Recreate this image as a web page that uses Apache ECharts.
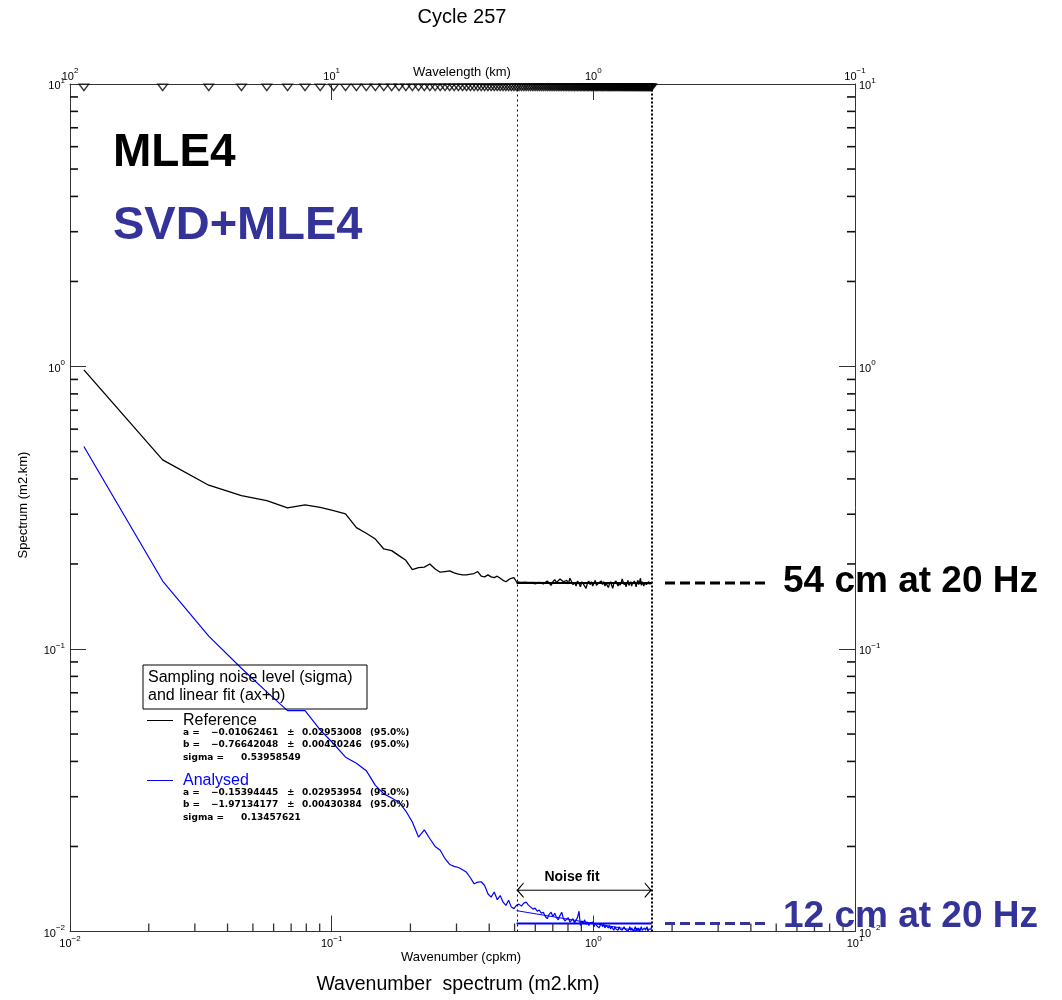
<!DOCTYPE html>
<html>
<head>
<meta charset="utf-8">
<script src="https://cdn.jsdelivr.net/npm/echarts@6/dist/echarts.min.js"></script>
<style>
  html, body { margin: 0; padding: 0; background: #ffffff; }
  #chart { width: 1062px; height: 1000px; }
</style>
</head>
<body>
<div id="chart"></div>
<script>
// Spectral resolution of the along-track spectrum (cycles per km)
const DK = 0.0113;

// Wavenumber spectra (m2.km), one value per spectral bin
const referenceSpectrum = [
  0.973, 0.467, 0.380, 0.349, 0.335, 0.316, 0.324, 0.317, 0.309, 0.301,
  0.269, 0.257, 0.245, 0.226, 0.223, 0.214, 0.206, 0.191, 0.194, 0.195,
  0.200, 0.192, 0.187, 0.188, 0.189, 0.186, 0.184, 0.183, 0.183, 0.184,
  0.185, 0.188, 0.181, 0.180, 0.183, 0.180, 0.179, 0.181, 0.178, 0.175,
  0.173, 0.176, 0.178, 0.179, 0.173,
  0.172, 0.171, 0.172, 0.172, 0.171, 0.171, 0.172, 0.170, 0.171, 0.172, 0.171, 0.170, 0.168,
  0.174, 0.171, 0.168, 0.173, 0.176, 0.172, 0.170, 0.177, 0.179, 0.173, 0.171, 0.175,
  0.170, 0.178, 0.176, 0.169, 0.172, 0.167, 0.174, 0.171, 0.166, 0.173, 0.170, 0.168, 0.164, 0.171, 0.174,
  0.169, 0.173, 0.167, 0.171, 0.175, 0.168, 0.166, 0.172, 0.170, 0.174, 0.169, 0.173, 0.167, 0.171, 0.168,
  0.165, 0.170, 0.173, 0.168, 0.164, 0.171, 0.169, 0.174, 0.170, 0.167, 0.172, 0.168, 0.171, 0.177, 0.173,
  0.169, 0.172, 0.166, 0.171, 0.175, 0.168, 0.170, 0.173, 0.167, 0.171, 0.169, 0.174, 0.170, 0.166, 0.172,
  0.175, 0.169, 0.171, 0.178, 0.168, 0.173, 0.170, 0.167, 0.172, 0.174, 0.169, 0.171, 0.168, 0.173, 0.170, 0.172, 0.169, 0.171
];
const analysedSpectrum = [
  0.521, 0.174, 0.111, 0.0855, 0.0705, 0.0605, 0.0605, 0.0517, 0.0462, 0.0414,
  0.0394, 0.0371, 0.0329, 0.0307, 0.0297, 0.0287, 0.0267, 0.0244, 0.0216, 0.0229,
  0.0213, 0.0200, 0.0194, 0.0181, 0.01727, 0.0170, 0.01685, 0.01655, 0.0162, 0.0155,
  0.01475, 0.01495, 0.0150, 0.01455, 0.0136, 0.01324, 0.0138, 0.01296, 0.0134, 0.0127,
  0.01237, 0.0129, 0.0122, 0.01205, 0.01237,
  0.0125, 0.0123, 0.0126, 0.0127, 0.0124,
  0.0122, 0.0120, 0.0121, 0.0118, 0.0119, 0.0116, 0.0117, 0.0113,
  0.0111, 0.0115, 0.0117, 0.0113, 0.0116, 0.0112, 0.0110, 0.0114, 0.0117, 0.0111, 0.0109, 0.0110,
  0.0112, 0.0108, 0.0109, 0.0111, 0.0107, 0.0110, 0.0112, 0.0118, 0.0105, 0.0109, 0.0107, 0.0110, 0.0106, 0.0108, 0.0105,
  0.0107, 0.0106, 0.0108, 0.0104, 0.0107, 0.0105, 0.0106, 0.0103, 0.0105, 0.0107, 0.0104, 0.0106, 0.0103, 0.0105, 0.0104,
  0.0103, 0.0105, 0.0102, 0.0104, 0.0103, 0.0101, 0.0104, 0.0102, 0.0103, 0.0101, 0.0104, 0.0102, 0.0103, 0.0101, 0.0102,
  0.0104, 0.0102, 0.0101, 0.0103, 0.0100, 0.0102, 0.0104, 0.0101, 0.0103, 0.0102, 0.0100, 0.0102, 0.0104, 0.0101, 0.0103,
  0.0101, 0.0103, 0.0100, 0.0102, 0.0104, 0.0101, 0.0102, 0.0100, 0.0103, 0.0101, 0.0102, 0.0104, 0.0100, 0.0102, 0.0101, 0.0103, 0.0102, 0.0105
];

// Wavenumber of each spectral bin
const wavenumber = referenceSpectrum.map((_, i) => +((i + 1) * DK).toFixed(5));

// Noise fit window (cpkm) and fit results: log10(S) = a*log10(k) + b
const noiseFitRange = [0.509, 1.672];
const seriesNames = ['Reference', 'Analysed'];
const fitA = [-0.01062461, -0.15394445];
const fitAErr = [0.02953008, 0.02953954];
const fitB = [-0.76642048, -1.97134177];
const fitBErr = [0.00430246, 0.00430384];
const fitSigma = [0.53958549, 0.13457621];
const confidence = '95.0%';

// Noise level quoted for each processing
const methodLabels = ['MLE4', 'SVD+MLE4'];
const noiseLabels = ['54 cm at 20 Hz', '12 cm at 20 Hz'];

// Axis ranges and decade ticks
const K_RANGE = [0.01, 10];
const WAVELENGTH_RANGE = [0.1, 100];
const S_RANGE = [0.01, 10];
const decadeStarts = [0.01, 0.1, 1];
const minorMultiples = [2, 3, 4, 5, 6, 7, 8, 9];
const minorTickValues = decadeStarts.flatMap(d => minorMultiples.map(m => +(m * d).toPrecision(3)));

// Where the "Noise fit" arrow sits
const arrowLevel = 0.014;

const COLORS = ['#000000', '#0000ff'];
const ANNOT_COLOR = '#333399';
const AXIS_COLOR = '#333333';
const FONT = 'Liberation Sans, Arial, Helvetica, sans-serif';
const SMALL_FONT = 'DejaVu Sans, Verdana, sans-serif';

function pow10Label(v) {
  const e = Math.round(Math.log10(v));
  const s = e < 0 ? '\u2212' + (-e) : String(e);
  return '{b|10}{s|' + s + '}';
}
const powRich = {
  b: { fontSize: 11, fontFamily: FONT, color: '#000', lineHeight: 15, verticalAlign: 'bottom' },
  s: { fontSize: 8, fontFamily: FONT, color: '#000', lineHeight: 15, verticalAlign: 'top' }
};

function fitLine(i) {
  return noiseFitRange.map(k => [k, Math.pow(10, fitA[i] * Math.log10(k) + fitB[i])]);
}
function levelLine(i) {
  return noiseFitRange.map(k => [k, Math.pow(10, fitB[i])]);
}

const axisLineStyle = { color: AXIS_COLOR, width: 1 };
const majorTick = { show: true, inside: true, length: 16, lineStyle: { color: AXIS_COLOR, width: 1 } };

const chart = echarts.init(document.getElementById('chart'), null, { renderer: 'canvas' });

chart.setOption({
  animation: false,
  backgroundColor: '#ffffff',
  grid: { left: 70, top: 84, width: 785, height: 847.5, containLabel: false },
  xAxis: [
    {
      type: 'log', logBase: 10, min: K_RANGE[0], max: K_RANGE[1], position: 'bottom',
      axisLine: { lineStyle: axisLineStyle }, axisTick: majorTick,
      axisLabel: { formatter: pow10Label, rich: powRich, margin: 3, showMinLabel: true, showMaxLabel: true },
      splitLine: { show: false }, minorTick: { show: false }
    },
    {
      type: 'log', logBase: 10, min: WAVELENGTH_RANGE[0], max: WAVELENGTH_RANGE[1], inverse: true, position: 'top',
      axisLine: { lineStyle: axisLineStyle }, axisTick: majorTick,
      axisLabel: { formatter: pow10Label, rich: powRich, margin: 2, showMinLabel: true, showMaxLabel: true },
      splitLine: { show: false }
    }
  ],
  yAxis: [
    {
      type: 'log', logBase: 10, min: S_RANGE[0], max: S_RANGE[1], position: 'left',
      axisLine: { lineStyle: axisLineStyle }, axisTick: majorTick,
      axisLabel: { formatter: pow10Label, rich: powRich, margin: 5, showMinLabel: true, showMaxLabel: true },
      splitLine: { show: false }
    },
    {
      type: 'log', logBase: 10, min: S_RANGE[0], max: S_RANGE[1], position: 'right',
      axisLine: { lineStyle: axisLineStyle }, axisTick: majorTick,
      axisLabel: { formatter: pow10Label, rich: powRich, margin: 4, showMinLabel: true, showMaxLabel: true },
      splitLine: { show: false }
    }
  ],
  series: [
    {
      name: seriesNames[0], type: 'line', showSymbol: false, z: 4,
      data: wavenumber.map((k, i) => [k, referenceSpectrum[i]]),
      lineStyle: { color: COLORS[0], width: 1.3 },
      markLine: {
        silent: true, symbol: 'none', label: { show: false },
        data: [
          { xAxis: noiseFitRange[0], lineStyle: { color: '#000', width: 1, type: [2, 3] } },
          { xAxis: noiseFitRange[1], lineStyle: { color: '#000', width: 2, type: [2, 2] } }
        ]
      }
    },
    {
      name: seriesNames[1], type: 'line', showSymbol: false, z: 4,
      data: wavenumber.map((k, i) => [k, analysedSpectrum[i]]),
      lineStyle: { color: COLORS[1], width: 1.2 }
    },
    { type: 'line', showSymbol: false, z: 5, data: levelLine(0), lineStyle: { color: COLORS[0], width: 2 } },
    { type: 'line', showSymbol: false, z: 5, data: fitLine(0), lineStyle: { color: COLORS[0], width: 1 } },
    { type: 'line', showSymbol: false, z: 5, data: levelLine(1), lineStyle: { color: COLORS[1], width: 2 } },
    { type: 'line', showSymbol: false, z: 5, data: fitLine(1), lineStyle: { color: COLORS[1], width: 1 } },
    {
      // "Noise fit" window arrow
      type: 'line', z: 5, symbolSize: [7, 16], symbolKeepAspect: false,
      lineStyle: { color: '#000', width: 1 }, itemStyle: { color: '#000' },
      data: [
        { value: [noiseFitRange[0], arrowLevel], symbol: 'path://M7,0 L0,8 L7,16 L7,14.4 L1.6,8 L7,1.6 Z', symbolOffset: [3.5, 0] },
        { value: [noiseFitRange[1], arrowLevel], symbol: 'path://M0,0 L7,8 L0,16 L0,14.4 L5.4,8 L0,1.6 Z', symbolOffset: [-3.5, 0] }
      ]
    },
    {
      // one open marker per spectral bin along the wavelength axis
      type: 'scatter', z: 6, clip: false, silent: true,
      symbol: 'path://M0,0 L10,0 L5,7 Z', symbolSize: [10, 6.5], symbolOffset: [0, 3.3],
      itemStyle: { color: 'transparent', borderColor: '#000', borderWidth: 1.2 },
      data: wavenumber.map(k => [k, S_RANGE[1]])
    },
    {
      // minor ticks of the wavenumber axis
      type: 'custom', coordinateSystem: 'cartesian2d', silent: true, clip: false, z: 6,
      encode: { x: 0, y: 1 },
      data: minorTickValues.map(v => [v, S_RANGE[0]]),
      renderItem: (params, api) => {
        const p = api.coord([api.value(0), S_RANGE[0]]);
        return { type: 'line', shape: { x1: p[0], y1: p[1], x2: p[0], y2: p[1] - 8 },
                 style: { stroke: AXIS_COLOR, lineWidth: 1.3 } };
      }
    },
    {
      // minor ticks of both spectrum axes
      type: 'custom', coordinateSystem: 'cartesian2d', silent: true, clip: false, z: 6,
      encode: { x: 0, y: 1 },
      data: minorTickValues.map(v => [K_RANGE[0], v]),
      renderItem: (params, api) => {
        const l = api.coord([K_RANGE[0], api.value(1)]);
        const r = api.coord([K_RANGE[1], api.value(1)]);
        return { type: 'group', children: [
          { type: 'line', shape: { x1: l[0], y1: l[1], x2: l[0] + 8, y2: l[1] }, style: { stroke: '#111', lineWidth: 1.6 } },
          { type: 'line', shape: { x1: r[0], y1: r[1], x2: r[0] - 8, y2: r[1] }, style: { stroke: '#111', lineWidth: 1.6 } }
        ] };
      }
    }
  ]
});

// Text, legend and annotations
const fmt = v => (v < 0 ? '\u2212' : '') + Math.abs(v).toFixed(8);
const yOf = v => chart.convertToPixel({ seriesIndex: 0 }, [1, v])[1];

function legendBlock(i, top) {
  const small = { fontFamily: SMALL_FONT, fontSize: 9, fontWeight: 'bold', fill: '#000', verticalAlign: 'middle' };
  const rows = [
    ['a =', fmt(fitA[i]), fitAErr[i].toFixed(8)],
    ['b =', fmt(fitB[i]), fitBErr[i].toFixed(8)]
  ];
  const out = [
    { type: 'line', shape: { x1: 147, y1: top, x2: 173, y2: top }, style: { stroke: COLORS[i], lineWidth: 1 } },
    { type: 'text', x: 183, y: top, style: { text: seriesNames[i], font: '16px ' + FONT, fill: i ? COLORS[1] : '#000', verticalAlign: 'middle' } }
  ];
  rows.forEach((r, j) => {
    const y = top + 12.5 + j * 12;
    out.push({ type: 'text', x: 183, y, style: Object.assign({ text: r[0] }, small) });
    out.push({ type: 'text', x: 211, y, style: Object.assign({ text: r[1] }, small) });
    out.push({ type: 'text', x: 287, y, style: Object.assign({ text: '\u00b1' }, small) });
    out.push({ type: 'text', x: 302, y, style: Object.assign({ text: r[2] }, small) });
    out.push({ type: 'text', x: 370, y, style: Object.assign({ text: '(' + confidence + ')' }, small) });
  });
  out.push({ type: 'text', x: 183, y: top + 37, style: Object.assign({ text: 'sigma =' }, small) });
  out.push({ type: 'text', x: 241, y: top + 37, style: Object.assign({ text: fitSigma[i].toFixed(8) }, small) });
  return out;
}

const refLevelY = yOf(Math.pow(10, fitB[0]));
const anaLevelY = yOf(Math.pow(10, fitB[1]));

const graphics = [
  { type: 'text', x: 462, y: 17, style: { text: 'Cycle 257', font: '20px ' + FONT, fill: '#000', align: 'center', verticalAlign: 'middle' } },
  { type: 'text', x: 462, y: 72, style: { text: 'Wavelength (km)', font: '13px ' + FONT, fill: '#000', align: 'center', verticalAlign: 'middle' } },
  { type: 'text', x: 461, y: 957, style: { text: 'Wavenumber (cpkm)', font: '13px ' + FONT, fill: '#000', align: 'center', verticalAlign: 'middle' } },
  { type: 'text', x: 458, y: 985, style: { text: 'Wavenumber  spectrum (m2.km)', font: '19.5px ' + FONT, fill: '#000', align: 'center', verticalAlign: 'middle' } },
  { type: 'text', x: 23, y: 505, rotation: Math.PI / 2, style: { text: 'Spectrum (m2.km)', font: '13px ' + FONT, fill: '#000', align: 'center', verticalAlign: 'middle' } },
  { type: 'text', x: 113, y: 153, style: { text: methodLabels[0], font: 'bold 46px ' + FONT, fill: '#000', verticalAlign: 'middle' } },
  { type: 'text', x: 113, y: 226, style: { text: methodLabels[1], font: 'bold 47px ' + FONT, fill: ANNOT_COLOR, verticalAlign: 'middle' } },
  { type: 'text', x: 572, y: 877, style: { text: 'Noise fit', font: 'bold 14px ' + FONT, fill: '#000', align: 'center', verticalAlign: 'middle' } },
  // noise labels at the fitted noise level of each spectrum
  { type: 'line', shape: { x1: 665, y1: refLevelY, x2: 768, y2: refLevelY }, style: { stroke: '#000', lineWidth: 3, lineDash: [10, 5] } },
  { type: 'text', x: 783, y: refLevelY - 1, style: { text: noiseLabels[0], font: 'bold 37px ' + FONT, fill: '#000', verticalAlign: 'middle' } },
  { type: 'line', shape: { x1: 665, y1: anaLevelY, x2: 768, y2: anaLevelY }, style: { stroke: ANNOT_COLOR, lineWidth: 3, lineDash: [10, 5] } },
  { type: 'text', x: 783, y: anaLevelY - 7, style: { text: noiseLabels[1], font: 'bold 37px ' + FONT, fill: ANNOT_COLOR, verticalAlign: 'middle' } },
  // legend box
  { type: 'rect', shape: { x: 143, y: 665, width: 224, height: 44 }, style: { fill: 'none', stroke: '#000', lineWidth: 1 } },
  { type: 'text', x: 148, y: 678, style: { text: 'Sampling noise level (sigma)', font: '16px ' + FONT, fill: '#000', verticalAlign: 'middle' } },
  { type: 'text', x: 148, y: 696, style: { text: 'and linear fit (ax+b)', font: '16px ' + FONT, fill: '#000', verticalAlign: 'middle' } }
].concat(legendBlock(0, 720.5), legendBlock(1, 780.5));

chart.setOption({ graphic: graphics.map(g => Object.assign({ z: 100, silent: true }, g)) });
</script>
</body>
</html>
